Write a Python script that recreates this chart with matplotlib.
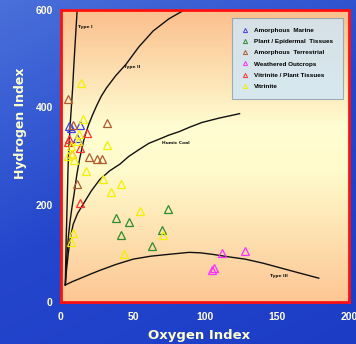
import numpy as np
import matplotlib
matplotlib.use("Agg")
import matplotlib.pyplot as plt
from matplotlib.colors import LinearSegmentedColormap
from matplotlib.lines import Line2D

# ---- data (Oxygen Index, Hydrogen Index) ----
marine_oi = [5.5, 7.0, 13.1, 10.8]
marine_hi = [362, 358, 363, 338]

plant_oi = [74, 38, 47, 41.5, 70, 63]
plant_hi = [191, 172, 164, 137, 147, 116]

terr_oi = [5, 8.5, 31.6, 19.6, 24.7, 28.6, 11.3]
terr_hi = [417, 364, 367, 297, 294, 294, 243]

weath_oi = [111.5, 128, 106.5, 105]
weath_hi = [100, 104, 70, 65]

vitpl_oi = [18.2, 5.5, 5.0, 13.1, 13.1, 7.6]
vitpl_hi = [348, 335, 328, 316, 203, 305]

vit_oi = [13.8, 15.4, 12.2, 12.0, 32, 6.9, 7.4, 9, 17.3, 29, 42, 34.6, 55, 71, 44, 8, 7, 5]
vit_hi = [451, 377, 346, 331, 323, 321, 304, 292, 269, 252, 243, 226, 186, 137, 99, 141, 123, 300]

# evolution path curves
t1_oi = [3, 3.2, 3.4, 3.6, 3.9, 4.2, 4.5, 4.8, 5.2, 5.8, 6.5, 7.3, 8.1, 8.8, 9.6, 10.4, 11.3]
t1_hi = [35, 70, 100, 130, 160, 195, 230, 265, 300, 335, 370, 405, 440, 480, 520, 560, 604]

t2_oi = [3, 3.4, 4, 5, 6.2, 7.5, 9, 11, 13, 16, 19, 22, 25, 28, 31.6, 38, 45, 54, 64, 75, 88]
t2_hi = [35, 60, 92, 130, 164, 192, 220, 262, 295, 335, 363, 385, 405, 423, 440, 465, 488, 524, 557, 582, 604]

hc_oi = [3, 3.8, 5, 6.5, 8.5, 11.5, 15.4, 21, 27, 34, 40.8, 47, 54.6, 61, 68.5, 75, 82, 90, 98, 110, 124]
hc_hi = [35, 65, 99, 132, 160, 182, 201, 228, 252, 270, 283, 299, 314, 326, 335, 343, 350, 360, 369, 378, 387]

t3_oi = [3, 8, 15.4, 21, 27, 38, 50, 62, 75, 89, 97, 105, 116, 128, 140, 150, 165, 179]
t3_hi = [35, 42, 51, 58, 65, 77, 88, 94, 98, 102, 101, 98, 93, 88, 80, 72, 60, 49]

curve_labels = ["Type I", "Type II", "Humic Coal", "Type III"]
curve_label_pos = [(11.8, 565), (44, 482), (70.3, 326), (145, 53)]

series = [
    ("Amorphous  Marine", marine_oi, marine_hi, "#4040e0"),
    ("Plant / Epidermal  Tissues", plant_oi, plant_hi, "#2e8b2e"),
    ("Amorphous  Terrestrial", terr_oi, terr_hi, "#b05a30"),
    ("Weathered Outcrops", weath_oi, weath_hi, "#ff30ff"),
    ("Vitrinite / Plant Tissues", vitpl_oi, vitpl_hi, "#ff3030"),
    ("Vitrinite", vit_oi, vit_hi, "#f0f000"),
]

fig = plt.figure(figsize=(3.56, 3.44), dpi=100)

# figure background gradient
bg = fig.add_axes([0, 0, 1, 1], zorder=-10)
yy, xx = np.mgrid[0:1:200j, 0:1:200j]
g = np.clip(0.65 * yy + 0.35 * xx, 0, 1)
cm_bg = LinearSegmentedColormap.from_list("bg", ["#4a70da", "#2446cc", "#1c3cc6"])
bg.imshow(g, cmap=cm_bg, aspect="auto", extent=[0, 1, 0, 1], origin="upper")
bg.set_axis_off()

ax = fig.add_axes([61 / 356, 1 - 302 / 344, 288 / 356, 292 / 344])
cm_ax = LinearSegmentedColormap.from_list(
    "ax", [(0, "#fdc694"), (0.45, "#fffbcc"), (0.6, "#fffdd2"), (1.0, "#fbbf8c")])
grad = np.linspace(0, 1, 256).reshape(-1, 1)
ax.imshow(grad, cmap=cm_ax, aspect="auto", extent=[0, 200, 0, 600],
          origin="lower", zorder=0)

for xo, yh in [(t1_oi, t1_hi), (t2_oi, t2_hi), (hc_oi, hc_hi), (t3_oi, t3_hi)]:
    ax.plot(xo, yh, color="#111111", lw=1.0, zorder=2, solid_joinstyle="round")

for lab, (px, py) in zip(curve_labels, curve_label_pos):
    ax.text(px, py, lab, fontsize=3.2, fontweight="bold", color="#111111",
            va="center", ha="left", zorder=3)

handles = []
for name, xo, yh, col in series:
    ax.plot(xo, yh, linestyle="none", marker="^", markersize=5.2,
            markerfacecolor="none", markeredgecolor=col, markeredgewidth=0.9, zorder=4)
    handles.append(Line2D([], [], linestyle="none", marker="^", markersize=3,
                          markerfacecolor="none", markeredgecolor=col,
                          markeredgewidth=0.7, label=name))

ax.set_xlim(0, 200)
ax.set_ylim(0, 600)
ax.set_xticks([0, 50, 100, 150, 200])
ax.set_yticks([0, 200, 400, 600])
for s in ax.spines.values():
    s.set_color("#ff1010")
    s.set_linewidth(2)
ax.tick_params(length=0, colors="#fffde0", labelsize=7.5)
for t in ax.get_xticklabels() + ax.get_yticklabels():
    t.set_fontweight("bold")
    t.set_fontfamily("Liberation Sans")
ax.tick_params(axis="x", pad=7)
ax.tick_params(axis="y", pad=6)

ax.set_xlabel("Oxygen Index", fontsize=9.5, color="#ffffcc", fontweight="bold")
ax.set_ylabel("Hydrogen Index", fontsize=9, color="#ffffcc", fontweight="bold")
ax.xaxis.set_label_coords(0.479, -0.092)
ax.yaxis.set_label_coords(-0.118, 0.613)

leg = ax.legend(handles=handles, loc="upper left",
                bbox_to_anchor=(0.594, 0.973, 0.385, 0.0), mode="expand",
                prop={"family": "Liberation Sans", "weight": "bold", "size": 4.6},
                frameon=True, fancybox=False, handlelength=1.0, handletextpad=1.0,
                labelspacing=0.9, borderpad=1.5, borderaxespad=0)
leg.get_frame().set_facecolor("#cde8fb")
leg.get_frame().set_edgecolor("#8a9bb0")
leg.get_frame().set_linewidth(0.8)
leg.set_zorder(5)

fig.savefig("out.png", dpi=100)
